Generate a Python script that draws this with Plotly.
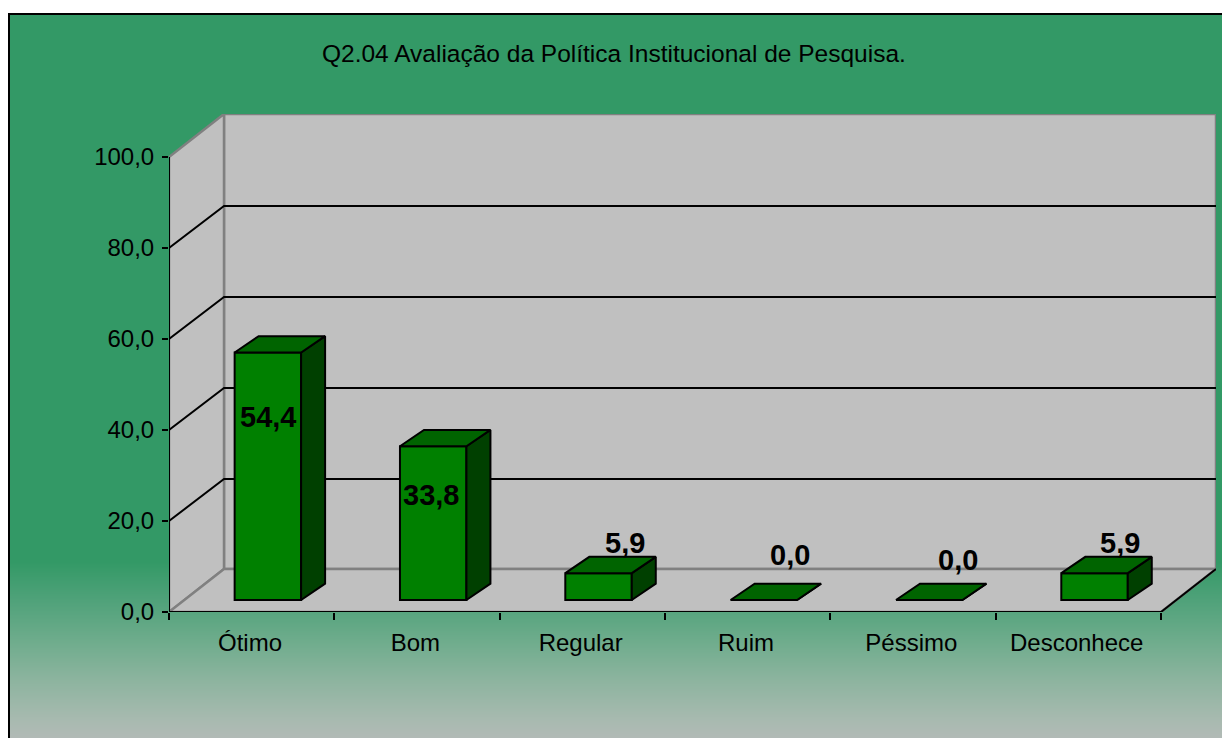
import numpy as np
import plotly.graph_objects as go

# ---- data ----
title_text = "Q2.04 Avaliação da Política Institucional de Pesquisa."
categories = ["Ótimo", "Bom", "Regular", "Ruim", "Péssimo", "Desconhece"]
values = [54.4, 33.8, 5.9, 0.0, 0.0, 5.9]
y_ticks = [0, 20, 40, 60, 80, 100]
y_tick_labels = ["0,0", "20,0", "40,0", "60,0", "80,0", "100,0"]

# ---- layout constants (pixels of the 1222x738 page) ----
W, H = 1222, 738
X0, X1, Y0, Y1 = 169, 1161, 612, 157     # front plane of the axes
DPX, DPY = 55, 43                        # wall depth
ux = (X1 - X0) / len(categories)
uy = (Y0 - Y1) / 100
DX, DY = DPX / ux, DPY / uy              # wall depth in data units
BAR_OFF, BAR_W = 0.598, 0.402
BAR_BASE = 12 / uy
BDX, BDY = 24 / ux, 16.3 / uy            # bar depth in data units
GRID_NUDGE = 1 / uy
label_xshift = [0, -2, 26, 26, 29, 25]
label_yshift = [-65, -49, 30, 45, 40, 30]

FONT = "Liberation Sans, Arial, sans-serif"
WALL, EDGE, FRONT, TOP, SIDE = "#C0C0C0", "#808080", "#008000", "#006400", "#004000"

fig = go.Figure()

# page background gradient
stops_px = np.arange(14, 739, 4)
stops = (stops_px - 14) / (738 - 14)
fig.add_trace(go.Heatmap(
    x=[0, 1], y=stops_px[::-1], z=[[s, s] for s in stops[::-1]], showscale=False, hoverinfo="skip",
    zmin=0, zmax=1, zsmooth="best", xaxis="x", yaxis="y",
    colorscale=[[0, "#339966"], [0.756, "#339966"], [0.81, "#50A27A"], [0.865, "#6EAC8C"],
                [0.92, "#8DB49F"], [0.975, "#A8BAB0"], [1, "#B2BAB6"]],
))


def path(xs, ys, fill=None, color="black", width=2):
    """Wall piece, drawn under the bars, placed by the main axes."""
    d = "M" + " L".join(f"{x},{y}" for x, y in zip(xs, ys)) + (" Z" if fill else "")
    fig.add_shape(type="path", path=d, xref="x2", yref="y2", layer="below",
                  fillcolor=fill if fill else "rgba(0,0,0,0)", line=dict(color=color, width=width))


def poly(xs, ys, fill, color="black", width=2):
    fig.add_trace(go.Scatter(
        x=xs, y=ys, mode="lines", xaxis="x2", yaxis="y2", cliponaxis=False,
        fill="toself", fillcolor=fill,
        line=dict(color=color, width=width), hoverinfo="skip", showlegend=False,
    ))


n = len(categories)
# walls and floor
path([DX, n + DX, n + DX, DX], [DY, DY, 100 + DY, 100 + DY], WALL, EDGE, 2.5)
path([0, DX, DX, 0], [0, DY, 100 + DY, 100], WALL, EDGE, 2.5)
path([0, n, n + DX, DX], [0, 0, DY, DY], WALL, EDGE, 2.5)
# grid
for v in y_ticks[1:-1]:
    path([0, DX, n + DX], [v, v + DY - GRID_NUDGE, v + DY - GRID_NUDGE])
# axes edges
path([n, n + DX], [0, DY])
path([0, n], [0, 0])
path([0, 0], [0, 100])

# bars: front faces come from a bar trace, depth faces from the same values
xb = [i + BAR_OFF for i in range(n)]
fig.add_trace(go.Bar(
    x=xb, y=values, base=BAR_BASE, width=BAR_W, xaxis="x2", yaxis="y2",
    marker=dict(color=FRONT, line=dict(color="black", width=2)),
    hoverinfo="skip", showlegend=False,
))
for x, v in zip(xb, values):
    l, r = x - BAR_W / 2, x + BAR_W / 2
    t = BAR_BASE + v
    poly([r, r + BDX, r + BDX, r, r], [BAR_BASE, BAR_BASE + BDY, t + BDY, t, BAR_BASE], SIDE)
    poly([l, r, r + BDX, l + BDX, l], [t, t, t + BDY, t + BDY, t], TOP)

# data labels
for x, v, sx, sy in zip(xb, values, label_xshift, label_yshift):
    fig.add_annotation(
        x=x, y=BAR_BASE + v, xref="x2", yref="y2", text=f"{v:.1f}".replace(".", ","),
        showarrow=False, xshift=sx, yshift=sy, xanchor="center", yanchor="middle",
        font=dict(family=FONT, size=29, color="black", weight="bold"),
    )

# chart title
fig.add_annotation(
    x=614 / W, y=1 - 53 / H, xref="paper", yref="paper", text=title_text, showarrow=False,
    xanchor="center", yanchor="middle", font=dict(family=FONT, size=24.5, color="black"),
)

fig.update_layout(
    width=W, height=H, margin=dict(l=0, r=0, t=0, b=0, pad=0), autosize=False,
    paper_bgcolor="white", plot_bgcolor="rgba(0,0,0,0)", showlegend=False,
    font=dict(family=FONT, color="black"),
    xaxis=dict(domain=[10 / W, 1], range=[0, 1], side="top", showline=True, linecolor="black", linewidth=2,
               showticklabels=False, ticks="", showgrid=False, zeroline=False, fixedrange=True, automargin=False),
    yaxis=dict(domain=[0, 1 - 15 / H], range=[738, 15], showline=True, linecolor="black", linewidth=2,
               showticklabels=False, ticks="", showgrid=False, zeroline=False, fixedrange=True, automargin=False),
    xaxis2=dict(domain=[X0 / W, (X1 + DPX) / W], range=[0, n + DX], anchor="y2", automargin=False,
                tickmode="array", tickvals=[i + 0.49 for i in range(n)], ticktext=categories,
                ticks="", showgrid=False, zeroline=False, showline=False, fixedrange=True,
                tickfont=dict(family=FONT, size=24, color="black"), ticklabelstandoff=14,
                minor=dict(tickmode="array", tickvals=list(range(n + 1)), ticks="outside", ticklen=7,
                           tickwidth=2, tickcolor="black", showgrid=False)),
    yaxis2=dict(domain=[1 - Y0 / H, 1 - (Y1 - DPY) / H], range=[0, 100 + DY], anchor="x2", automargin=False,
                tickmode="array", tickvals=y_ticks, ticktext=y_tick_labels,
                ticks="outside", ticklen=6, tickwidth=2, tickcolor="black",
                showgrid=False, zeroline=False, showline=False, fixedrange=True,
                tickfont=dict(family=FONT, size=24, color="black"), ticklabelstandoff=3),
    barmode="overlay",
)

fig.write_html("out.html", post_script="document.body.style.margin='0';",
               config={"displayModeBar": False})
